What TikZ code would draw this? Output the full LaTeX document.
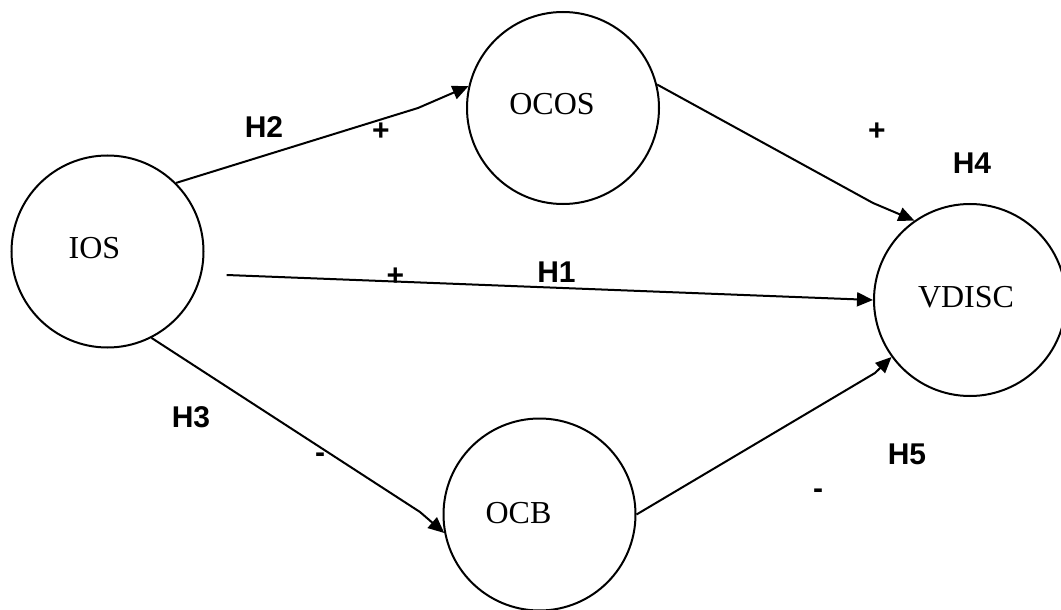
\documentclass[tikz,border=0pt]{standalone}
\usepackage{fontspec}
\setmainfont{Liberation Serif}
\newfontfamily\hypfont{Liberation Sans}
\usetikzlibrary{arrows.meta}

\begin{document}
\begin{tikzpicture}[x=0.5pt,y=-0.5pt,
    var/.style={draw,circle,line width=1pt,minimum size=96pt,inner sep=0pt},
    varname/.style={font=\fontsize{16}{19}\selectfont,inner sep=0pt},
    hyp/.style={font=\hypfont\bfseries\fontsize{15}{18}\selectfont,inner sep=0pt},
    link/.style={line width=1pt,-{Triangle[length=8pt,width=7pt]}}]
  \useasboundingbox (0,0) rectangle (1061,610);
  % constructs (absolute positions)
  \node[var] (ios) at (107.5,251.5) {};
  \node[var] (ocos) at (563,108) {};
  \node[var] (vdisc) at (970,300) {};
  \node[var] (ocb) at (539.5,514.5) {};
  \node[varname] (iosname) at (94.5,248.5) {IOS};
  \node[varname] (ocosname) at (552,104) {OCOS};
  \node[varname] (vdiscname) at (966,297) {VDISC};
  \node[varname] (ocbname) at (518.5,513) {OCB};
  % bends of the paths
  \coordinate (h2bend) at (418,108);
  \coordinate (h3bend) at (420,512);
  \coordinate (h4bend) at (873,203);
  \coordinate (h5bend) at (875,373);
  \draw[link] (ios.45) -- (h2bend) -- (ocos.167);
  \draw[link] ([shift={(24,5)}]ios.-11) -- (vdisc.west);
  \draw[link] (ios.-63) -- (h3bend) -- (ocb.191);
  \draw[link] (ocos.14) -- (h4bend) -- (vdisc.125);
  \draw[link] (ocb.east) -- (h5bend) -- (vdisc.216);
  % hypotheses and signs
  \node[hyp] (h2) at (264,127.5) {H2};
  \node[hyp] (h2sign) at (381,132) {+};
  \node[hyp] (h1) at (556.5,272.5) {H1};
  \node[hyp] (h1sign) at (395.5,277) {+};
  \node[hyp] (h4) at (972,163.5) {H4};
  \node[hyp] (h4sign) at (877,132) {+};
  \node[hyp] (h3) at (191,417.5) {H3};
  \node[hyp] (h3sign) at (320,458) {-};
  \node[hyp] (h5) at (907,454) {H5};
  \node[hyp] (h5sign) at (818,494) {-};
\end{tikzpicture}
\end{document}
